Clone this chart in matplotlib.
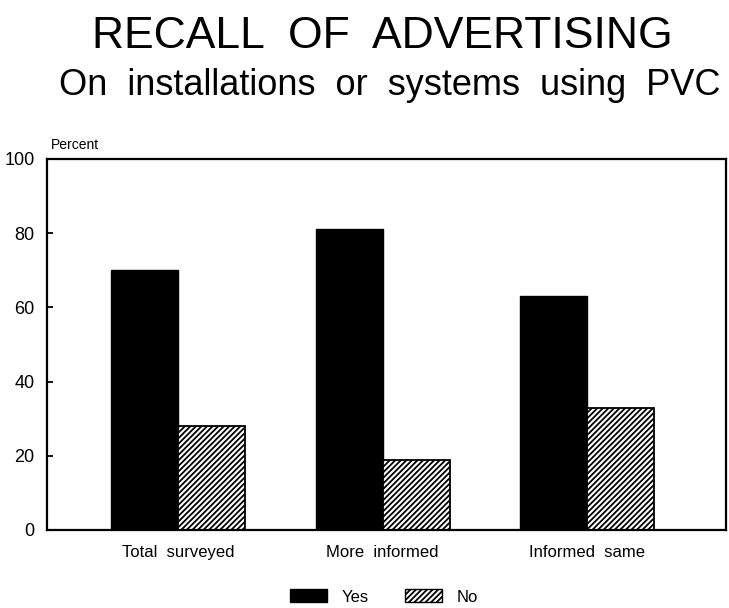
import matplotlib.pyplot as plt
import matplotlib.patches as mpatches
import numpy as np

plt.rcParams['font.family'] = ['Liberation Sans', 'DejaVu Sans']
plt.rcParams['hatch.linewidth'] = 1.3

categories = ['Total  surveyed', 'More  informed', 'Informed  same']
yes_vals = [70, 81, 63]
no_vals = [28, 19, 33]
y_ticks = [0, 20, 40, 60, 80, 100]

fig = plt.figure(figsize=(7.29, 6.08), dpi=100)
ax = fig.add_axes([0.0645, 0.1283, 0.9315, 0.6102])

x = np.arange(len(categories))
w = 0.327
ax.bar(x - w / 2, yes_vals, w, color='black', edgecolor='black')
ax.bar(x + w / 2, no_vals, w, color='white', edgecolor='black', hatch='//////', linewidth=1.3)

ax.set_xlim(-0.639, 2.678)
ax.set_ylim(0, 100)
ax.set_yticks(y_ticks)
ax.set_xticks(x)
ax.set_xticklabels(categories, fontsize=12)
ax.tick_params(axis='x', length=0, pad=11)
ax.tick_params(axis='y', direction='in', length=4, labelsize=13, width=1.3, pad=9)
for s in ax.spines.values():
    s.set_linewidth(1.6)

ax.text(0.005, 1.02, 'Percent', transform=ax.transAxes, fontsize=10, ha='left', va='bottom')

fig.text(0.525, 0.921, 'RECALL  OF  ADVERTISING', fontsize=32, ha='center', va='baseline')
fig.text(0.535, 0.844, 'On  installations  or  systems  using  PVC', fontsize=26,
         ha='center', va='baseline')

handles = [mpatches.Patch(facecolor='black', edgecolor='black', label='Yes'),
           mpatches.Patch(facecolor='white', edgecolor='black', hatch='//////', label='No')]
fig.legend(handles=handles, loc='center', bbox_to_anchor=(0.527, 0.018), ncol=2, frameon=False,
           fontsize=12, handlelength=2.2, handleheight=0.8, handletextpad=0.9, columnspacing=2.2)

fig.savefig('out.png', dpi=100)
